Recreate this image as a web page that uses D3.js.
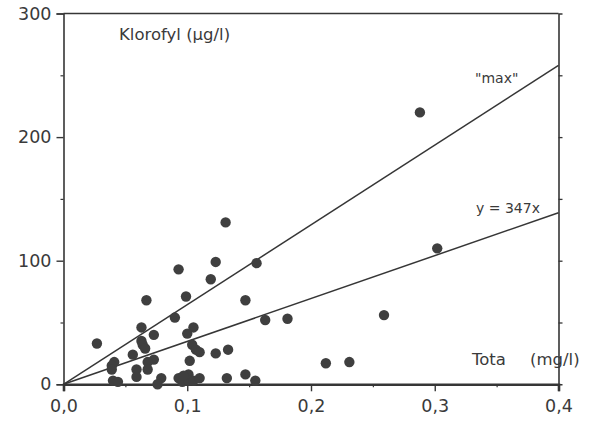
<!DOCTYPE html>
<html><head><meta charset="utf-8">
<script src="https://cdn.jsdelivr.net/npm/d3@7"></script>
<style>
html,body{margin:0;padding:0;background:#fff;}
svg text{font-family:"DejaVu Sans",sans-serif;fill:#3a3a3a;}
</style></head>
<body><svg id="c" width="590" height="421"></svg>
<script>
const totalP = [0.027,0.131,0.123,0.156,0.093,0.119,0.067,0.099,0.147,0.090,0.163,0.181,0.063,0.073,0.105,0.100,0.063,0.064,0.066,0.104,0.107,0.110,0.123,0.133,0.056,0.073,0.068,0.068,0.102,0.041,0.039,0.039,0.059,0.059,0.040,0.044,0.079,0.076,0.093,0.096,0.101,0.101,0.105,0.110,0.132,0.147,0.155,0.302,0.259,0.212,0.231,0.288,0.097];
const chlorophyll = [33,131,99,98,93,85,68,71,68,54,52,53,46,40,46,41,35,32,29,32,28,26,25,28,24,20,18,12,19,18,15,12,12,6,3,2,5,0,5,2,8,3,3,5,5,8,3,110,56,17,18,220,7];
const xTicks = [0, 0.1, 0.2, 0.3, 0.4];
const xTickLabels = ["0,0","0,1","0,2","0,3","0,4"];
const yTicks = [0, 100, 200, 300];
const yMinor = [50, 150, 250];
const xMinor = [0.05, 0.15, 0.25, 0.35];
const lineSlopes = [645, 347];
const lineLabels = ['"max"', "y = 347x"];

const svg = d3.select("#c");
const x = d3.scaleLinear().domain([0, 0.4]).range([63.5, 558.5]);
const y = d3.scaleLinear().domain([0, 300]).range([384.3, 13.5]);
const ink = "#363636";

// frame top and right
svg.append("line").attr("x1", x(0)).attr("x2", x(0.4)).attr("y1", y(300)).attr("y2", y(300)).attr("stroke", ink).attr("stroke-width", 1.6);
const rightAx = svg.append("g").attr("transform", `translate(${x(0.4)},0)`)
  .call(d3.axisRight(y).tickValues([50,100,150,200,250]).tickSize(4).tickFormat(""));
rightAx.select(".domain").attr("stroke", ink).attr("stroke-width", 1.6);
rightAx.selectAll(".tick line").attr("stroke", ink).attr("stroke-width", 1.3);

// left axis
const leftAx = svg.append("g").attr("transform", `translate(${x(0)},0)`)
  .call(d3.axisLeft(y).tickValues(yTicks).tickSize(7).tickPadding(5).tickFormat(d3.format("d")));
leftAx.select(".domain").attr("stroke", ink).attr("stroke-width", 1.6);
leftAx.selectAll(".tick line").attr("stroke", ink).attr("stroke-width", 1.4);
leftAx.selectAll(".tick text").attr("font-size", 17.5).attr("font-family", '"DejaVu Sans",sans-serif').attr("fill", "#3a3a3a");
svg.append("g").attr("transform", `translate(${x(0)},0)`)
  .call(d3.axisLeft(y).tickValues(yMinor).tickSize(3).tickFormat(""))
  .call(g => g.select(".domain").remove())
  .selectAll(".tick line").attr("stroke", ink).attr("stroke-width", 1.2);

// bottom axis
const botAx = svg.append("g").attr("transform", `translate(0,${y(0)})`)
  .call(d3.axisBottom(x).tickValues(xTicks).tickSize(7).tickPadding(8).tickFormat((d,i) => xTickLabels[i]));
botAx.select(".domain").attr("stroke", ink).attr("stroke-width", 2.6);
botAx.selectAll(".tick line").attr("stroke", ink).attr("stroke-width", 1.4);
botAx.selectAll(".tick text").attr("font-size", 17.5).attr("font-family", '"DejaVu Sans",sans-serif').attr("fill", "#3a3a3a");
svg.append("g").attr("transform", `translate(0,${y(0)})`)
  .call(d3.axisBottom(x).tickValues(xMinor).tickSize(3).tickFormat(""))
  .call(g => g.select(".domain").remove())
  .selectAll(".tick line").attr("stroke", ink).attr("stroke-width", 1.2);

// regression lines
lineSlopes.forEach(s => {
  svg.append("line").attr("x1", x(0)).attr("y1", y(0)).attr("x2", x(0.4)).attr("y2", y(s*0.4))
    .attr("stroke", ink).attr("stroke-width", 1.5);
});

// points
svg.append("g").selectAll("circle").data(totalP).join("circle")
  .attr("cx", d => x(d)).attr("cy", (d,i) => y(chlorophyll[i])).attr("r", 5.2)
  .attr("fill", "#3f3f3f");

// labels
svg.append("text").attr("x", 119).attr("y", 40).attr("font-size", 16.5).text("Klorofyl (µg/l)");
svg.append("text").attr("x", 475).attr("y", 83).attr("font-size", 14).text(lineLabels[0]);
svg.append("text").attr("x", 476).attr("y", 213).attr("font-size", 14).text(lineLabels[1]);
svg.append("text").attr("x", 472).attr("y", 365).attr("font-size", 16.5).text("Tota");
svg.append("text").attr("x", 530).attr("y", 365).attr("font-size", 16.5).text("(mg/l)");
</script></body></html>
